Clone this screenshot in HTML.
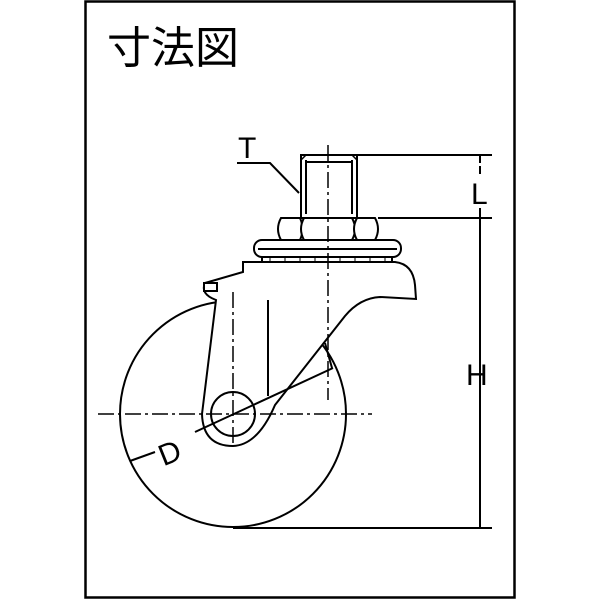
<!DOCTYPE html>
<html><head><meta charset="utf-8"><style>body{margin:0;background:#fff}svg{display:block}</style></head><body>
<svg width="600" height="600" viewBox="0 0 600 600" xmlns="http://www.w3.org/2000/svg" fill="none" stroke="#000" stroke-width="2">
<rect x="85.5" y="1.5" width="429" height="596" stroke-width="2.5"/>
<text x="107" y="63" font-family="Liberation Sans, Noto Sans CJK JP, sans-serif" font-size="44" fill="#000" stroke="none">寸法図</text>
<circle cx="233" cy="414" r="113"/>
<path d="M243,262 L395,262 Q413,264 415,285 L416,299 L380,297 Q360,298 345,316 L275,405 Q258,445 233,446 Q203,446 202,414 L216,300 Q200,294 205,283 L243,272 Z" fill="#fff"/>
<rect x="204" y="283" width="13" height="8" fill="#fff"/>
<line x1="268" y1="300" x2="268" y2="396"/>
<circle cx="233" cy="414" r="22"/>
<rect x="254" y="240" width="147" height="17" rx="8" fill="#fff"/>
<line x1="258" y1="249" x2="397" y2="249"/>
<path d="M262,257 L262,262 M392,257 L392,262" />
<g stroke-width="1">
<line x1="270" y1="258" x2="270" y2="262"/><line x1="285" y1="258" x2="285" y2="262"/><line x1="300" y1="258" x2="300" y2="262"/><line x1="315" y1="258" x2="315" y2="262"/><line x1="340" y1="258" x2="340" y2="262"/><line x1="355" y1="258" x2="355" y2="262"/><line x1="370" y1="258" x2="370" y2="262"/><line x1="385" y1="258" x2="385" y2="262"/>
</g>
<path d="M281,218 L300,218 Q305,229 300,240 L281,240 Q275,229 281,218 Z" fill="#fff"/>
<path d="M304,218 L352,218 Q358,229 352,240 L304,240 Q298,229 304,218 Z" fill="#fff"/>
<path d="M357,218 L375,218 Q381,229 375,240 L357,240 Q351,229 357,218 Z" fill="#fff"/>
<rect x="301" y="155" width="56" height="63" fill="#fff"/>
<line x1="306" y1="160" x2="306" y2="214"/><line x1="352" y1="160" x2="352" y2="214"/>
<line x1="306" y1="162" x2="352" y2="162"/>
<path d="M301,160 L306,155 M357,160 L352,155" stroke-width="1.5"/>
<g stroke-width="1.5" stroke-dasharray="16,4,3,4">
<line x1="98" y1="414" x2="372" y2="414"/>
<line x1="328" y1="145" x2="328" y2="400"/>
<line x1="233" y1="292" x2="233" y2="445"/>
</g>
<line x1="357" y1="155" x2="492" y2="155"/>
<line x1="378" y1="218" x2="492" y2="218"/>
<line x1="233" y1="528" x2="492" y2="528"/>
<line x1="480" y1="155" x2="480" y2="175" stroke-dasharray="8,3"/>
<line x1="480" y1="208" x2="480" y2="528"/>
<line x1="195" y1="432" x2="333" y2="368"/>
<line x1="325" y1="343" x2="332" y2="368"/>
<line x1="130" y1="461" x2="155" y2="452"/>
<path d="M237,163 L270,163 L299,193"/>
<g font-family="Liberation Sans, sans-serif" font-size="30" fill="#000" stroke="none">
<text x="238" y="158">T</text>
<text x="471" y="204">L</text>
<text x="466" y="385">H</text>
<text x="158" y="462" transform="rotate(-22 172 450)">D</text>
</g>
</svg>
</body></html>
